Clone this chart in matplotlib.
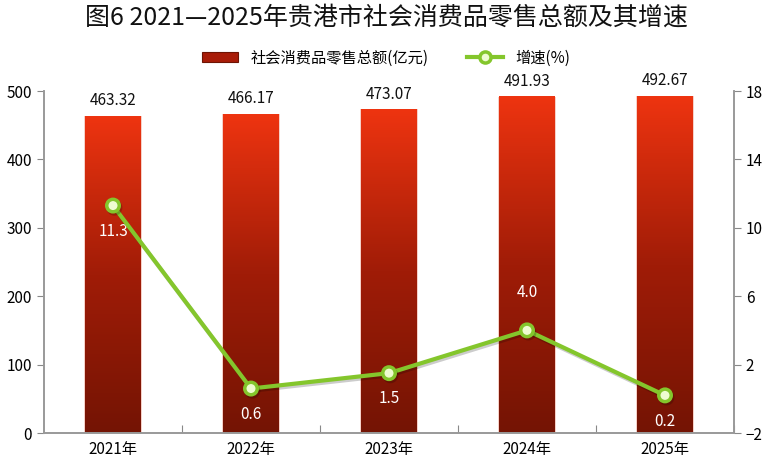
import numpy as np
import matplotlib.pyplot as plt
from matplotlib.lines import Line2D
from matplotlib.patches import Rectangle
from matplotlib.colors import LinearSegmentedColormap
import matplotlib.patheffects as pe
from matplotlib.legend_handler import HandlerPatch

plt.rcParams['font.family'] = ['Noto Sans CJK SC', 'DejaVu Sans']

years = ['2021年', '2022年', '2023年', '2024年', '2025年']
sales = [463.32, 466.17, 473.07, 491.93, 492.67]
growth = [11.3, 0.6, 1.5, 4.0, 0.2]
growth_lbl = ['11.3', '0.6', '1.5', '4.0', '0.2']

fig = plt.figure(figsize=(7.72, 4.76), dpi=100)
ax = fig.add_axes([44 / 772, 43 / 476, 690 / 772, 342 / 476])
ax2 = ax.twinx()

x = np.arange(len(years))
bw = 0.4

# gradient bars
grad = np.linspace(0, 1, 256).reshape(-1, 1)
cmap = LinearSegmentedColormap.from_list('barg', ['#741404', '#a01c07', '#ee3410'])
for xi, v in zip(x, sales):
    ax.bar(xi, v, bw + 0.02, color='#f6d0c8', zorder=1, linewidth=0)
    ax.imshow(grad, extent=[xi - bw / 2, xi + bw / 2, 0, v], origin='lower',
              cmap=cmap, aspect='auto', zorder=2)
    ax.text(xi, v + 10, f'{v:.2f}', ha='center', va='bottom', fontsize=11, color='#111111')
ax.set_aspect('auto')
ax.set_xlim(-0.5, len(years) - 0.5)
ax.set_ylim(0, 500)
ax2.set_ylim(-2, 18)

# growth line
ax2.plot(x, growth, color='#84c62c', lw=3, marker='o', ms=9, mfc='#eefcd0',
         mec='#84c62c', mew=2.5, zorder=5,
         path_effects=[pe.SimpleLineShadow(offset=(1, -1.5), alpha=0.2), pe.Normal()])
for xi, g, t in zip(x, growth, growth_lbl):
    if t == '4.0':
        ax2.text(xi, g + 2.2, t, ha='center', va='center', color='white', fontsize=11)
    else:
        ax2.text(xi, g - 1.5, t, ha='center', va='center', color='white', fontsize=11)

ax.set_xticks(x + 0.5, minor=False)
ax.set_xticks(x, minor=True)
ax.set_xticklabels([''] * len(years))
ax.set_xticklabels(years, minor=True, fontsize=11)
ax.tick_params(axis='x', which='major', direction='in', length=6, color='#888888')
ax.tick_params(axis='x', which='minor', length=0, pad=6)
ax.set_yticks(range(0, 501, 100))
ax.tick_params(axis='y', direction='out', length=5, color='#888888', labelsize=11)
ax2.set_yticks(range(-2, 19, 4))
ax2.tick_params(axis='y', direction='out', length=5, color='#888888', labelsize=11)
for a in (ax, ax2):
    for s in ('left', 'bottom', 'right'):
        a.spines[s].set_color('#999999')
        a.spines[s].set_linewidth(1.2)
    a.spines['top'].set_visible(False)

fig.text(0.5, 0.962, '图6 2021—2025年贵港市社会消费品零售总额及其增速', ha='center', va='center',
         fontsize=18, fontweight='medium', color='#111111')


class GradHandler(HandlerPatch):
    def create_artists(self, legend, orig_handle, xd, yd, w, h, fontsize, trans):
        r = Rectangle((-xd, -yd + h * 0.05), w, h * 0.9, facecolor='#a81c08',
                      edgecolor='#6e1404', lw=0.8, transform=trans)
        return [r]


bar_h = Rectangle((0, 0), 1, 1, facecolor='#a81c08')
line_h = Line2D([], [], color='#84c62c', lw=3, marker='o', ms=8, mfc='#eefcd0',
                mec='#84c62c', mew=2.5)
fig.legend([bar_h, line_h], ['社会消费品零售总额(亿元)', '增速(%)'], loc='center',
           bbox_to_anchor=(0.5, 0.878), ncol=2, frameon=False, fontsize=11,
           handlelength=2.4, columnspacing=2.5, handler_map={Rectangle: GradHandler()})

fig.savefig('out.png', dpi=100)
